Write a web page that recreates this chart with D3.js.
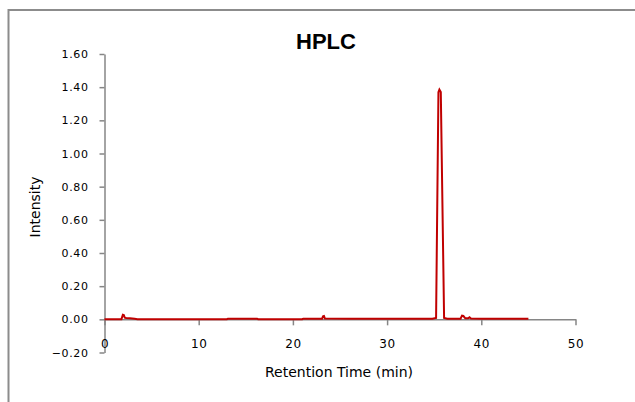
<!DOCTYPE html>
<html>
<head>
<meta charset="utf-8">
<script src="https://cdn.jsdelivr.net/npm/d3@7"></script>
<style>
  body { margin: 0; background: #fff; }
  svg { display: block; }
  .tick text { fill: #000; font-family: "DejaVu Sans", sans-serif; }
  .domain, .tick line { stroke: #868686; stroke-width: 1.5; }
</style>
</head>
<body>
<svg id="chart" width="635" height="402"></svg>
<script>
// retention time (min) and detector intensity
const times = [0, 1.8, 1.95, 2.05, 2.15, 2.3, 2.7, 3.2, 3.5, 6, 10, 13, 13.1, 16.2, 16.3, 21, 21.1,
  23.1, 23.2, 23.3, 23.4, 26, 30, 34.8, 35.2, 35.45, 35.55, 35.7, 36.05, 36.4, 37.8, 37.95,
  38.1, 38.3, 38.6, 38.75, 38.9, 40, 42, 45]
const intensity = [0.001, 0.001, 0.028, 0.026, 0.01, 0.008, 0.006, 0.003, 0.001, 0.001, 0.001, 0.001, 0.004, 0.004, 0.001, 0.001, 0.004,
  0.004, 0.018, 0.02, 0.005, 0.004, 0.004, 0.004, 0.008, 1.37, 1.385, 1.37, 0.008, 0.004, 0.004, 0.022,
  0.02, 0.006, 0.006, 0.012, 0.005, 0.004, 0.004, 0.004]

const xTicks = [0, 10, 20, 30, 40, 50]
const yTicks = [-0.2, 0, 0.2, 0.4, 0.6, 0.8, 1.0, 1.2, 1.4, 1.6]

const svg = d3.select("#chart")

// outer chart frame (runs off the right and bottom edges)
svg.append("rect")
    .attr("x", 8.5).attr("y", 10)
    .attr("width", 700).attr("height", 500)
    .attr("fill", "none")
    .attr("stroke", "#8c8c8c")
    .attr("stroke-width", 2)

const x = d3.scaleLinear().domain([0, 50]).range([104.5, 575.5])
const y = d3.scaleLinear().domain([-0.2, 1.6]).range([352.5, 54])

svg.append("g")
    .attr("transform", `translate(${x(0)},0)`)
    .call(d3.axisLeft(y).tickValues(yTicks).tickFormat(d3.format(".2f"))
        .tickSize(5).tickPadding(11).tickSizeOuter(0))
    .call(g => g.selectAll("text").style("font-size", "11px").style("letter-spacing", "0.6px"))

svg.append("g")
    .attr("transform", `translate(0,${y(0)})`)
    .call(d3.axisBottom(x).tickValues(xTicks).tickFormat(d3.format("d"))
        .tickSize(6).tickPadding(14).tickSizeOuter(0))
    .call(g => g.selectAll("text").style("font-size", "12px").style("letter-spacing", "0.6px"))

const points = times.map((t, i) => [t, intensity[i]])

svg.append("path")
    .datum(points)
    .attr("fill", "none")
    .attr("stroke", "#c00000")
    .attr("stroke-width", 2)
    .attr("stroke-linejoin", "miter")
    .attr("d", d3.line().x(d => x(d[0])).y(d => y(d[1])))

svg.append("text")
    .attr("x", 326).attr("y", 49)
    .attr("text-anchor", "middle")
    .style("font-family", "'Liberation Sans', Arial, sans-serif")
    .style("font-weight", "bold")
    .style("font-size", "22px")
    .text("HPLC")

svg.append("text")
    .attr("x", 339).attr("y", 377)
    .attr("text-anchor", "middle")
    .style("font-family", "'DejaVu Sans', sans-serif")
    .style("font-size", "14px")
    .text("Retention Time (min)")

svg.append("text")
    .attr("transform", "translate(40,207) rotate(-90)")
    .attr("text-anchor", "middle")
    .style("font-family", "'DejaVu Sans', sans-serif")
    .style("font-size", "14px")
    .text("Intensity")
</script>
</body>
</html>
